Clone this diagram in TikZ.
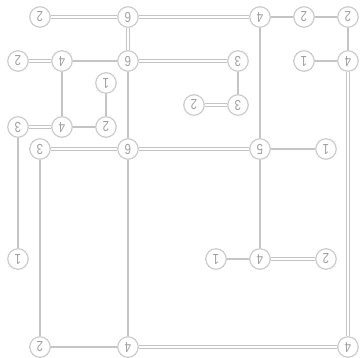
\documentclass[tikz,border=0pt]{standalone}
\usepackage{fontspec}
\setmainfont{Liberation Sans}
\usetikzlibrary{backgrounds}
\definecolor{bridgec}{HTML}{C4C4C4}
\definecolor{ringc}{HTML}{CCCCCC}
\definecolor{numc}{HTML}{A0A0A0}
\begin{document}
\begin{tikzpicture}[x=1pt,y=-1pt,
  isle/.style={circle,draw=ringc,line width=1.2pt,fill=white,minimum size=20.5pt,inner sep=0pt,
    text=numc,font=\fontsize{14.5}{14.5}\selectfont,rotate=180},
  one/.style={draw=bridgec,line width=1.2pt},
  two/.style={draw=bridgec,line width=1.1pt,double=white,double distance=2.2pt}]
\useasboundingbox (0,0) rectangle (361,357);
\foreach \r/\c/\v in {0/1/2,0/5/6,0/11/4,0/13/2,0/15/2,
  2/0/2,2/2/4,2/5/6,2/10/3,2/13/1,2/15/4,
  3/4/1,4/8/2,4/10/3,
  5/0/3,5/2/4,5/4/2,
  6/1/3,6/5/6,6/11/5,6/14/1,
  11/0/1,11/9/1,11/11/4,11/14/2,
  15/1/2,15/5/4,15/15/4}
  \node[isle] (n\r-\c) at ({18+22*\c},{17+22*\r}) {\scalebox{0.8}[1]{\v}};
\begin{scope}[on background layer]
\foreach \a/\b in {0-11/0-13,0-13/0-15,0-15/2-15,0-11/6-11,6-11/11-11,2-2/2-5,2-13/2-15,
  2-2/5-2,3-4/5-4,2-10/4-10,5-2/5-4,5-0/11-0,6-11/6-14,2-5/6-5,6-1/15-1,6-5/15-5,
  11-9/11-11,15-1/15-5}
  \draw[one] (n\a) -- (n\b);
\foreach \a/\b in {0-1/0-5,0-5/0-11,0-5/2-5,2-0/2-2,2-5/2-10,2-15/15-15,4-8/4-10,
  5-0/5-2,6-1/6-5,6-5/6-11,11-11/11-14,15-5/15-15}
  \draw[two] (n\a) -- (n\b);
\end{scope}
\end{tikzpicture}
\end{document}
